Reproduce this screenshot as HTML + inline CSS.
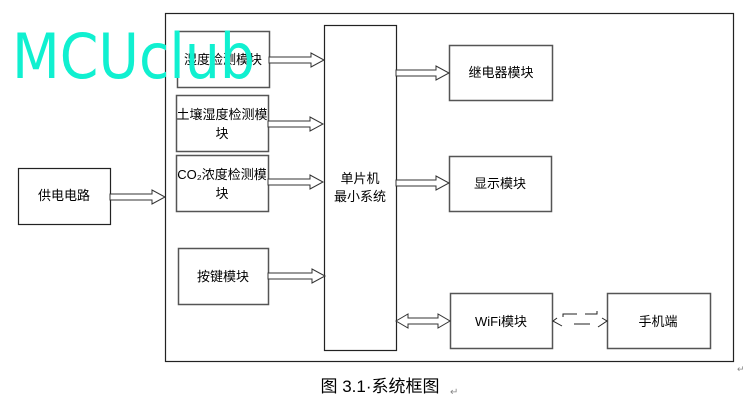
<!DOCTYPE html>
<html><head><meta charset="utf-8"><style>
html,body{margin:0;padding:0;background:#fff;width:745px;height:408px;overflow:hidden}
text{font-family:"Liberation Sans","Noto Sans CJK SC",sans-serif;font-size:13px;fill:#000}
</style></head><body>
<svg width="745" height="408" viewBox="0 0 745 408" xmlns="http://www.w3.org/2000/svg">
<g fill="none" stroke="#333" stroke-width="1.2">
<rect x="165.5" y="13.5" width="568" height="348" stroke="#222"/>
<rect x="177.5" y="31.5" width="92" height="56" stroke="#555" stroke-width="1.5"/>
<rect x="176.5" y="95.5" width="92" height="56" stroke="#555" stroke-width="1.5"/>
<rect x="176.5" y="155.5" width="92" height="56" stroke="#555" stroke-width="1.5"/>
<rect x="178.5" y="248.5" width="90" height="56" stroke="#555" stroke-width="1.5"/>
<rect x="324.5" y="25.5" width="72" height="325" stroke="#222"/>
<rect x="449.5" y="45.5" width="103" height="55" stroke="#555" stroke-width="1.5"/>
<rect x="449.5" y="156.5" width="102" height="55" stroke="#555" stroke-width="1.5"/>
<rect x="450.5" y="293.5" width="102" height="55" stroke="#555" stroke-width="1.5"/>
<rect x="607.5" y="293.5" width="103" height="55" stroke="#555" stroke-width="1.5"/>
<rect x="18.5" y="168.5" width="92" height="56" stroke="#222"/>
</g>
<g fill="#fff" stroke="#333" stroke-width="1">
<polygon points="269,57 311,57 311,53 324,60 311,67 311,63 269,63"/>
<polygon points="268,121 310,121 310,117 323,124 310,131 310,127 268,127"/>
<polygon points="268,179 310,179 310,175 323,182 310,189 310,185 268,185"/>
<polygon points="110,194 152,194 152,190 165,197 152,204 152,200 110,200"/>
<polygon points="268,273 312,273 312,269 325,276 312,283 312,279 268,279"/>
<polygon points="396,70 436,70 436,66 449,73 436,80 436,76 396,76"/>
<polygon points="396,180 436,180 436,176 449,183 436,190 436,186 396,186"/>
<polygon points="396,321 408,314 408,318 438,318 438,314 450,321 438,328 438,324 408,324 408,328"/>
</g>
<g fill="none" stroke="#222" stroke-width="1">
<path d="M562,326 L553,321 L557,318"/>
<path d="M563,317 L563,314 L577,314"/>
<path d="M574,324 L590,324"/>
<path d="M585,314 L597,314 L597,311"/>
<path d="M598,327 L607,321 L602,318"/>
</g>
<text x="223" y="64" text-anchor="middle">湿度检测模块</text>
<text x="222" y="119" text-anchor="middle">土壤湿度检测模</text>
<text x="222" y="138" text-anchor="middle">块</text>
<text x="222" y="179" text-anchor="middle">CO₂浓度检测模</text>
<text x="222" y="198" text-anchor="middle">块</text>
<text x="223" y="281" text-anchor="middle">按键模块</text>
<text x="360" y="183" text-anchor="middle">单片机</text>
<text x="360" y="201" text-anchor="middle">最小系统</text>
<text x="501" y="77" text-anchor="middle">继电器模块</text>
<text x="500" y="188" text-anchor="middle">显示模块</text>
<text x="501" y="326" text-anchor="middle">WiFi模块</text>
<text x="658" y="326" text-anchor="middle">手机端</text>
<text x="64" y="200" text-anchor="middle">供电电路</text>
<text x="380" y="392" text-anchor="middle" style="font-size:17px">图 3.1·系统框图</text>
<text x="450" y="395" style="font-size:10px;fill:#888">↵</text>
<text x="737" y="372" style="font-size:9px;fill:#888">↵</text>
<text x="12" y="78" style="font-size:62px;fill:#10f0d0;font-family:'DejaVu Sans','Liberation Sans',sans-serif" textLength="243" lengthAdjust="spacingAndGlyphs">MCUclub</text>
</svg>
</body></html>
